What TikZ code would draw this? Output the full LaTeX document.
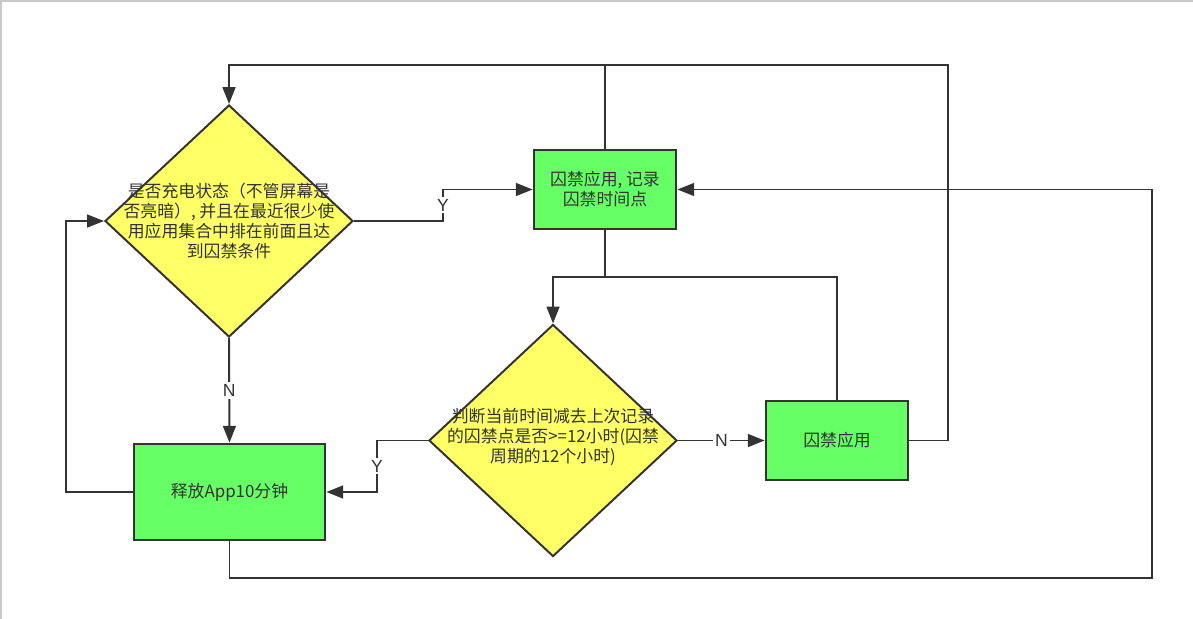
\documentclass[tikz,border=0pt]{standalone}
\usepackage{fontspec}
\setmainfont{Noto Sans CJK SC}
\newfontfamily\labelfont{Liberation Sans}
\usetikzlibrary{shapes.geometric,arrows.meta}

\definecolor{boxgreen}{RGB}{102,255,102}
\definecolor{diayellow}{RGB}{255,255,102}
\definecolor{linegray}{RGB}{51,51,51}
\definecolor{framegray}{RGB}{200,200,200}

\tikzset{
  decision/.style={diamond, draw=linegray, line width=1.4pt, fill=diayellow,
    minimum width=6.2cm, minimum height=5.8cm, inner sep=0pt},
  action/.style={rectangle, draw=linegray, line width=1.8pt, fill=boxgreen,
    minimum width=3.55cm, minimum height=1.975cm, inner sep=0pt},
  msg/.style={align=center, text=linegray, inner sep=0pt,
    font=\fontsize{12}{14.2}\selectfont},
  lbl/.style={fill=white, inner sep=1.5pt, text=linegray,
    font=\labelfont\fontsize{12.5}{14}\selectfont},
  flow/.style={draw=linegray, line width=1.4pt},
  arr/.style={flow, -{Triangle[length=0.42cm, width=0.32cm]}}
}

\begin{document}
\begin{tikzpicture}[x=0.025cm, y=-0.025cm]
  \useasboundingbox (0,0) rectangle (1193,619);
  % frame of the page
  \draw [framegray, line width=1.2pt] (1,619) -- (1,1) -- (1193,1);

  % Marking the two decisions
  \node [decision] (d1) at (229,221) {};
  \node [msg] (d1text) at (d1) {是否充电状态（不管屏幕是\\否亮暗）, 并且在最近很少使\\用应用集合中排在前面且达\\到囚禁条件};
  \node [decision] (d2) at (553,440.5) {};
  \node [msg] (d2text) at ([yshift=0.08cm]d2) {判断当前时间减去上次记录\\的囚禁点是否>=12小时(囚禁\\周期的12个小时)};

  % Marking the three actions
  \node [action] (jail) at (605,189.5) {};
  \node [msg] (jailtext) at (jail) {囚禁应用, 记录\\囚禁时间点};
  \node [action] (jail2) at (837,440.5) {};
  \node [msg] (jail2text) at (jail2) {囚禁应用};
  \node [action, minimum width=4.775cm, minimum height=2.4cm] (free) at (229.5,492) {};
  \node [msg] (freetext) at (free) {释放App10分钟};

  % bend points
  \coordinate (topR) at (948,65);
  \coordinate (yA) at (443,205);
  \coordinate (join) at (553,277);
  \coordinate (yB) at (377,466);
  \coordinate (lft) at (66,300);
  \coordinate (botR) at (1152,578);

  % Drawing top loop back to d1
  \draw [arr] (jail2.east) -| (topR) -| (d1.north);
  \draw [flow] (jail.north) -- (jail.north |- topR);

  % Drawing d1 -> jail (Y)
  \draw [arr] (d1.east) -| (yA) |- (jail.west);
  \node [lbl] (ya) at (yA) {Y};

  % Drawing jail -> d2, and jail2 back to the join
  \draw [arr] (jail.south) |- (join) -- (d2.north);
  \draw [flow] (jail2.north) |- (join);

  % Drawing d2 -> jail2 (N)
  \draw [arr] (d2.east) -- node [lbl] (na) {N} (jail2.west);

  % Drawing d2 -> free (Y)
  \draw [arr] (d2.west) -| (yB) |- (free.east);
  \node [lbl] (yb) at (yB) {Y};

  % Drawing d1 -> free (N)
  \draw [arr] (d1.south) -- node [lbl] (nb) {N} (free.north);

  % Drawing free back to d1
  \draw [arr] (free.west) -| (lft) |- (d1.west);

  % Drawing free -> jail along the bottom
  \draw [arr] (free.south) |- (botR) |- (jail.east);
\end{tikzpicture}
\end{document}
